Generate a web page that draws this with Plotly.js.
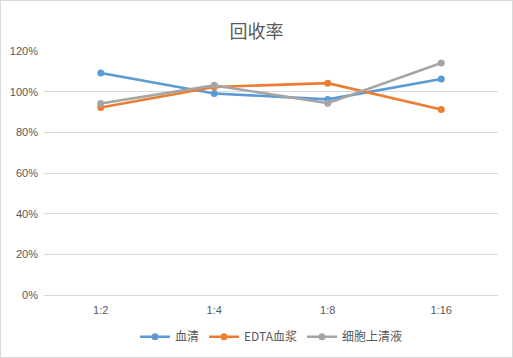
<!DOCTYPE html>
<html>
<head>
<meta charset="utf-8">
<script src="https://cdn.plot.ly/plotly-3.0.1.min.js"></script>
<style>
html,body{margin:0;padding:0;background:#fff;}
#chart{width:511px;height:356px;border:1px solid #d9d9d9;}
</style>
</head>
<body>
<div id="chart"></div>
<script>
const categories = ["1:2", "1:4", "1:8", "1:16"];
const serum = [1.092, 0.991, 0.962, 1.062];
const edtaPlasma = [0.922, 1.023, 1.042, 0.912];
const cellSupernatant = [0.942, 1.031, 0.943, 1.141];
const seriesNames = ["血清", "EDTA血浆", "细胞上清液"];
const yTickVals = [0, 0.2, 0.4, 0.6, 0.8, 1.0, 1.2];

const colors = ["#5B9BD5", "#ED7D31", "#A5A5A5"];
const data = [serum, edtaPlasma, cellSupernatant].map((vals, i) => ({
  type: "scatter",
  mode: "lines+markers",
  x: categories,
  y: vals,
  name: seriesNames[i],
  line: {color: colors[i], width: 2.6},
  marker: {color: colors[i], size: 7}
}));

const layout = {
  width: 511,
  height: 356,
  margin: {l: 43, r: 14, t: 50, b: 62},
  paper_bgcolor: "#fff",
  plot_bgcolor: "#fff",
  font: {family: "Liberation Sans, Noto Sans CJK SC, sans-serif", size: 11, color: "#595959"},
  title: {
    text: "回收率",
    font: {family: "Noto Sans CJK SC, sans-serif", size: 18, color: "#595959"},
    x: 0.5, xanchor: "center", y: 0.915, yanchor: "middle"
  },
  xaxis: {
    type: "category",
    range: [-0.5, 3.5],
    showgrid: false,
    zeroline: false,
    showline: false,
    ticks: "",
    ticklabelstandoff: 7,
    automargin: false,
    tickfont: {size: 11, color: "#595959"}
  },
  yaxis: {
    range: [0, 1.2],
    tickvals: yTickVals,
    tickformat: ".0%",
    showgrid: true,
    gridcolor: "#d9d9d9",
    gridwidth: 1,
    zeroline: true,
    zerolinecolor: "#d9d9d9",
    showline: false,
    ticks: "",
    ticklabelstandoff: 5,
    automargin: false,
    tickfont: {size: 11, color: "#595959"}
  },
  showlegend: true,
  legend: {
    orientation: "h",
    x: 0.5, xanchor: "center",
    yref: "container",
    y: 0.057, yanchor: "middle",
    font: {family: "Noto Sans CJK SC, sans-serif", size: 12, color: "#595959"},
    itemwidth: 30,
    tracegroupgap: 0
  }
};

Plotly.newPlot("chart", data, layout, {displayModeBar: false, staticPlot: true});
</script>
</body>
</html>
